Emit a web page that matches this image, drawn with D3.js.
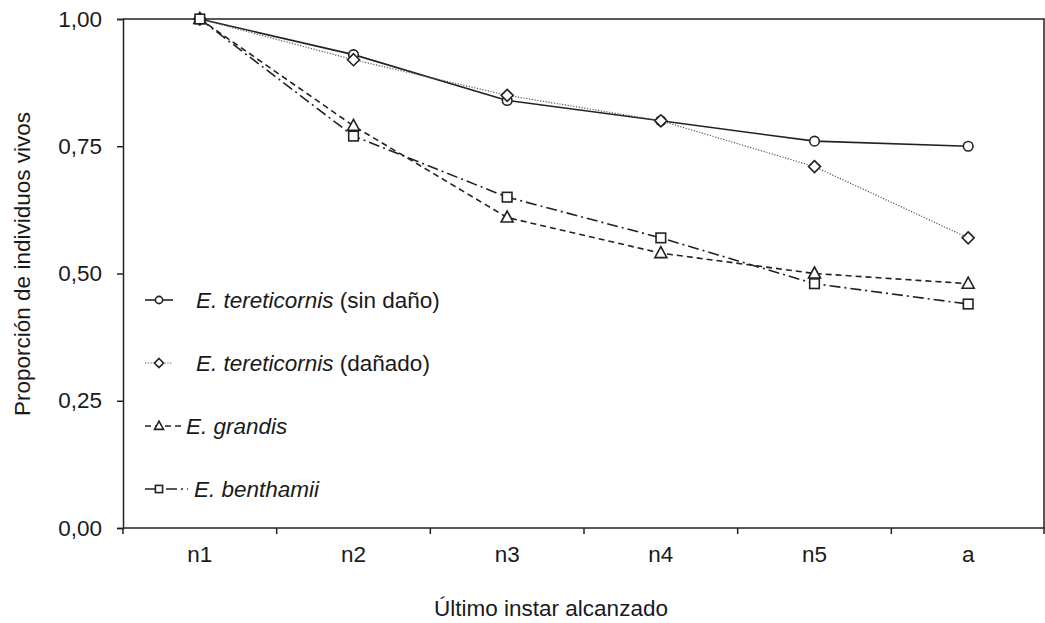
<!DOCTYPE html>
<html>
<head>
<meta charset="utf-8">
<script src="https://cdn.jsdelivr.net/npm/d3@7"></script>
<style>
  body { margin: 0; background: #fff; }
  text { font-family: "Liberation Sans", Arial, sans-serif; fill: #1a1a1a; }
</style>
</head>
<body>
<svg id="canvas" width="1045" height="623"></svg>
<script>
let categories = ["n1", "n2", "n3", "n4", "n5", "a"]
let yTicks = [0, 0.25, 0.5, 0.75, 1]

let sinDano = [1.00, 0.93, 0.84, 0.80, 0.76, 0.75]
let danado = [1.00, 0.92, 0.85, 0.80, 0.71, 0.57]
let grandis = [1.00, 0.79, 0.61, 0.54, 0.50, 0.48]
let benthamii = [1.00, 0.77, 0.65, 0.57, 0.48, 0.44]

let seriesNames = ["E. tereticornis", "E. tereticornis", "E. grandis", "E. benthamii"]
let seriesNotes = ["(sin daño)", "(dañado)", "", ""]

let series = [
  { name: seriesNames[0], note: seriesNotes[0], values: sinDano, dash: null, width: 1.6, color: "#222", marker: "circle" },
  { name: seriesNames[1], note: seriesNotes[1], values: danado, dash: "1.2,1.6", width: 1.2, color: "#555", marker: "diamond" },
  { name: seriesNames[2], note: seriesNotes[2], values: grandis, dash: "6,4", width: 1.6, color: "#222", marker: "triangle" },
  { name: seriesNames[3], note: seriesNotes[3], values: benthamii, dash: "11,4,2,4", width: 1.6, color: "#222", marker: "square" }
]

let canvas = d3.select('#canvas')
let fontSize = 22.5

let plotLeft = 123, plotRight = 1045, plotTop = 19, plotBottom = 528

let x = d3.scaleBand().domain(categories).range([plotLeft, plotRight])
let y = d3.scaleLinear().domain([0, 1]).range([plotBottom, plotTop])

// frame (top and right)
canvas.append('path')
  .attr('d', `M${plotLeft},${plotTop}H${plotRight - 1}V${plotBottom}`)
  .attr('fill', 'none')
  .attr('stroke', '#222')
  .attr('stroke-width', 1.5)

// y axis
let yAxis = canvas.append('g')
  .attr('transform', `translate(${plotLeft},0)`)
  .call(d3.axisLeft(y).tickValues(yTicks).tickSize(6).tickPadding(15)
    .tickFormat(d => d3.format('.2f')(d).replace('.', ',')))
yAxis.selectAll('path, line').attr('stroke', '#222').attr('stroke-width', 1.5)
yAxis.selectAll('text').attr('font-size', fontSize).attr('font-family', '"Liberation Sans", Arial, sans-serif').attr('fill', '#1a1a1a')

// x axis: ticks at band edges
let xAxis = canvas.append('g')
  .attr('transform', `translate(0,${plotBottom})`)
xAxis.append('line')
  .attr('x1', plotLeft).attr('x2', plotRight).attr('stroke', '#222').attr('stroke-width', 1.5)
let edges = categories.map(c => x(c)).concat([plotRight - 1])
xAxis.selectAll('.tk').data(edges).enter().append('line')
  .attr('x1', d => d).attr('x2', d => d).attr('y1', 0).attr('y2', 6)
  .attr('stroke', '#222').attr('stroke-width', 1.5)
xAxis.selectAll('.lbl').data(categories).enter().append('text')
  .attr('x', d => x(d) + x.bandwidth() / 2)
  .attr('y', 34)
  .attr('text-anchor', 'middle')
  .attr('font-size', fontSize)
  .text(d => d)

// axis titles
canvas.append('text')
  .attr('x', 551).attr('y', 616)
  .attr('text-anchor', 'middle')
  .attr('font-size', fontSize)
  .text('Último instar alcanzado')

canvas.append('text')
  .attr('transform', 'translate(30,264) rotate(-90)')
  .attr('text-anchor', 'middle')
  .attr('font-size', fontSize)
  .text('Proporción de individuos vivos')

let cx = c => x(c) + x.bandwidth() / 2

let drawMarker = (g, type, px, py, k) => {
  let m
  if (type === 'circle') {
    m = g.append('circle').attr('cx', px).attr('cy', py).attr('r', 4.8 * k)
  } else if (type === 'diamond') {
    let s = 6 * k
    m = g.append('path').attr('d', `M${px},${py - s}L${px + s},${py}L${px},${py + s}L${px - s},${py}Z`)
  } else if (type === 'triangle') {
    m = g.append('path').attr('d', `M${px},${py - 6.5 * k}L${px + 6 * k},${py + 4.5 * k}L${px - 6 * k},${py + 4.5 * k}Z`)
  } else {
    m = g.append('rect').attr('x', px - 4.8 * k).attr('y', py - 4.8 * k).attr('width', 9.6 * k).attr('height', 9.6 * k)
  }
  m.attr('fill', '#fff').attr('stroke', '#222').attr('stroke-width', 1.6)
}

let line = d3.line().x((d, i) => cx(categories[i])).y(d => y(d))

series.forEach(s => {
  let g = canvas.append('g')
  g.append('path')
    .datum(s.values)
    .attr('d', line)
    .attr('fill', 'none')
    .attr('stroke', s.color)
    .attr('stroke-width', s.width)
    .attr('stroke-dasharray', s.dash)
  s.values.forEach((v, i) => drawMarker(g, s.marker, cx(categories[i]), y(v), 1))
})

// legend
let legendY = [300, 363, 426, 489]
let legendLineEnd = [173, 173, 183, 188]
let legendTextX = [196, 196, 186, 194]
series.forEach((s, i) => {
  let g = canvas.append('g').attr('transform', `translate(0,${legendY[i]})`)
  g.append('line')
    .attr('x1', 145).attr('x2', legendLineEnd[i]).attr('y1', 0).attr('y2', 0)
    .attr('stroke', s.color).attr('stroke-width', s.width)
    .attr('stroke-dasharray', s.dash)
  drawMarker(g, s.marker, 159, 0, 0.75)
  let t = g.append('text').attr('x', legendTextX[i]).attr('y', 8).attr('font-size', fontSize)
  t.append('tspan').attr('font-style', 'italic').text(s.name)
  if (s.note) t.append('tspan').text(' ' + s.note)
})
</script>
</body>
</html>
